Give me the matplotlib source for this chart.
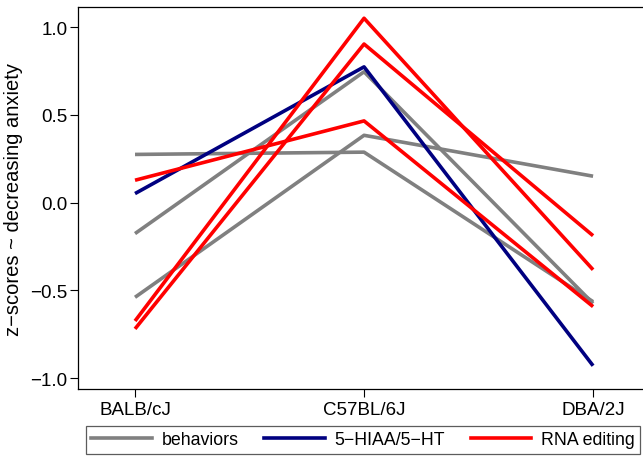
import matplotlib.pyplot as plt
from matplotlib.lines import Line2D

plt.rcParams['font.family'] = ['Liberation Sans', 'DejaVu Sans']

strains = ['BALB/cJ', 'C57BL/6J', 'DBA/2J']

# z-scores per strain (BALB/cJ, C57BL/6J, DBA/2J)
behaviors = [
    [0.274, 0.287, -0.565],
    [-0.540, 0.383, 0.150],
    [-0.177, 0.745, -0.575],
]
serotonin = [
    [0.051, 0.773, -0.930],
]
rna_editing = [
    [0.127, 0.465, -0.593],
    [-0.675, 1.050, -0.383],
    [-0.720, 0.903, -0.189],
]

groups = [
    ('behaviors', '#808080', behaviors),
    ('5\u2212HIAA/5\u2212HT', '#000080', serotonin),
    ('RNA editing', '#ff0000', rna_editing),
]

fig = plt.figure(figsize=(6.43, 4.60), dpi=100)
ax = fig.add_axes([0.1213, 0.152, 0.8787, 0.8306])

x = list(range(len(strains)))
handles = []
for name, color, series in groups:
    for vals in series:
        ax.plot(x, vals, color=color, linewidth=2.6, solid_capstyle='butt')
    handles.append(Line2D([], [], color=color, linewidth=2.6, label=name))

ax.set_xlim(-0.249, 2.218)
ax.set_ylim(-1.063, 1.114)
ax.set_xticks(x)
ax.set_xticklabels(strains)
ax.set_yticks([-1.0, -0.5, 0.0, 0.5, 1.0])
ax.set_yticklabels(['\u22121.0', '\u22120.5', '0.0', '0.5', '1.0'])
ax.tick_params(axis='both', labelsize=13.5, length=5.5, width=0.8, direction='out')
ax.tick_params(axis='y', pad=2)
ax.tick_params(axis='x', pad=3)
ax.spines['right'].set_visible(False)
for s in ['left', 'top', 'bottom']:
    ax.spines[s].set_linewidth(0.9)
ax.set_ylabel('z\u2212scores ~ decreasing anxiety', fontsize=14.5, labelpad=5)

leg = fig.legend(handles=handles, loc='upper left', bbox_to_anchor=(0.134, 0.0717),
                 ncol=3, fontsize=12.8, frameon=True, fancybox=False,
                 handlelength=3.4, handletextpad=0.55, columnspacing=1.45,
                 borderpad=0.3, borderaxespad=0)
leg.get_frame().set_edgecolor('#333333')
leg.get_frame().set_linewidth(0.9)

fig.savefig('out.png', dpi=100)
